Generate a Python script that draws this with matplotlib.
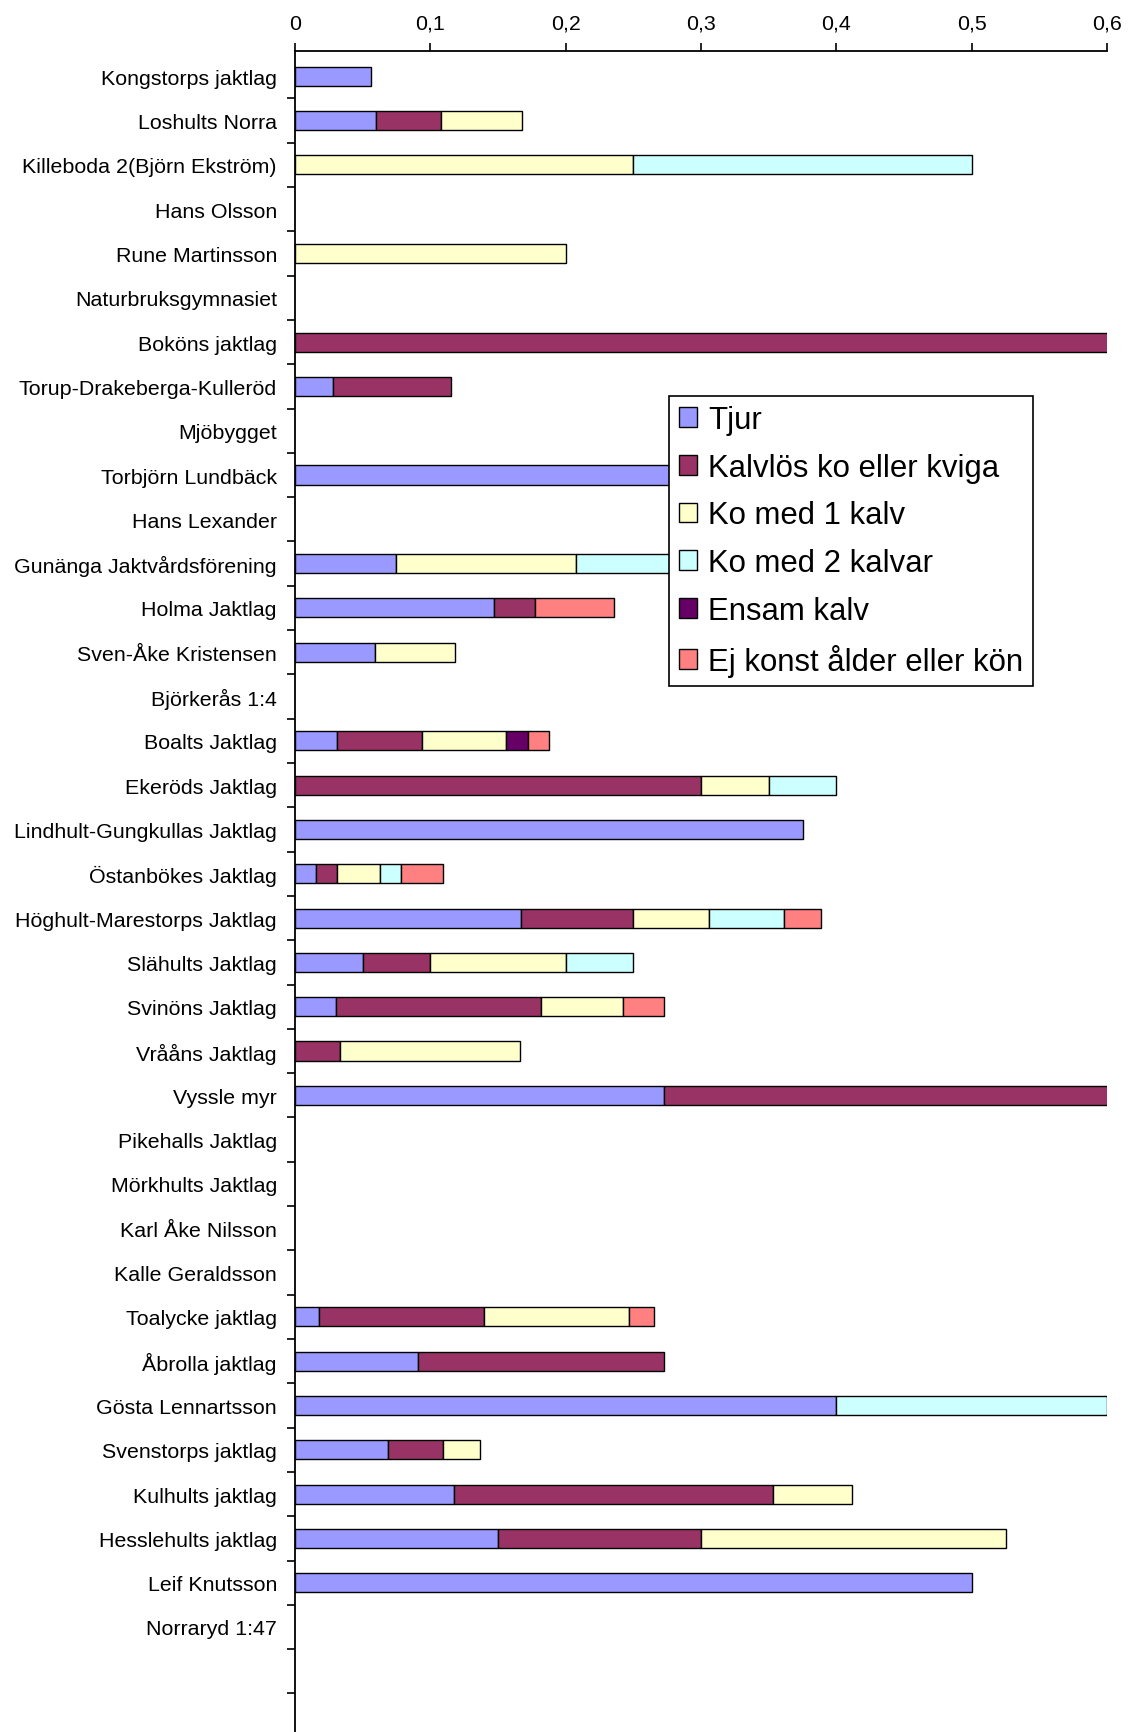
import matplotlib
matplotlib.use("Agg")
import matplotlib.pyplot as plt
import numpy as np

plt.rcParams['font.family'] = ['Liberation Sans', 'DejaVu Sans']

categories = [
    "Kongstorps jaktlag", "Loshults Norra", "Killeboda 2(Björn Ekström)", "Hans Olsson",
    "Rune Martinsson", "Naturbruksgymnasiet", "Boköns jaktlag", "Torup-Drakeberga-Kulleröd",
    "Mjöbygget", "Torbjörn Lundbäck", "Hans Lexander", "Gunänga Jaktvårdsförening",
    "Holma Jaktlag", "Sven-Åke Kristensen", "Björkerås 1:4", "Boalts Jaktlag",
    "Ekeröds Jaktlag", "Lindhult-Gungkullas Jaktlag", "Östanbökes Jaktlag",
    "Höghult-Marestorps Jaktlag", "Slähults Jaktlag", "Svinöns Jaktlag", "Vrååns Jaktlag",
    "Vyssle myr", "Pikehalls Jaktlag", "Mörkhults Jaktlag", "Karl Åke Nilsson",
    "Kalle Geraldsson", "Toalycke jaktlag", "Åbrolla jaktlag", "Gösta Lennartsson",
    "Svenstorps jaktlag", "Kulhults jaktlag", "Hesslehults jaktlag", "Leif Knutsson",
    "Norraryd 1:47",
]

tjur = [0.056, 0.06, 0, 0, 0, 0, 0, 0.028, 0, 0.333, 0, 0.075, 0.147, 0.059, 0, 0.03125,
        0, 0.375, 0.0156, 0.1667, 0.05, 0.0303, 0, 0.2727, 0, 0, 0, 0, 0.0175, 0.0909,
        0.4, 0.0685, 0.1176, 0.15, 0.5, 0]
kalvlos = [0, 0.048, 0, 0, 0, 0, 1.0, 0.087, 0, 0, 0, 0, 0.03, 0, 0, 0.0625,
           0.3, 0, 0.0156, 0.0833, 0.05, 0.1515, 0.0333, 0.7273, 0, 0, 0, 0, 0.1225, 0.1818,
           0, 0.041, 0.2353, 0.15, 0, 0]
ko1 = [0, 0.06, 0.25, 0, 0.2, 0, 0, 0, 0, 0, 0, 0.133, 0, 0.059, 0, 0.0625,
       0.05, 0, 0.0313, 0.0556, 0.1, 0.0606, 0.1333, 0, 0, 0, 0, 0, 0.107, 0,
       0, 0.0275, 0.0588, 0.225, 0, 0]
ko2 = [0, 0, 0.25, 0, 0, 0, 0, 0, 0, 0, 0, 0.125, 0, 0, 0, 0,
       0.05, 0, 0.0156, 0.0556, 0.05, 0, 0, 0, 0, 0, 0, 0, 0, 0,
       0.2, 0, 0, 0, 0, 0]
ensam = [0] * 15 + [0.0156] + [0] * 20
ej = [0, 0, 0, 0, 0, 0, 0, 0, 0, 0, 0, 0, 0.059, 0, 0, 0.0156,
      0, 0, 0.0313, 0.0278, 0, 0.0303, 0, 0, 0, 0, 0, 0, 0.018, 0,
      0, 0, 0, 0, 0, 0]

series_names = ["Tjur", "Kalvlös ko eller kviga", "Ko med 1 kalv", "Ko med 2 kalvar",
                "Ensam kalv", "Ej konst ålder eller kön"]
series_colors = ["#9999FF", "#993366", "#FFFFCC", "#CCFFFF", "#660066", "#FF8080"]
x_ticks = [0, 0.1, 0.2, 0.3, 0.4, 0.5, 0.6]
x_labels = ["0", "0,1", "0,2", "0,3", "0,4", "0,5", "0,6"]

fig = plt.figure(figsize=(11.28, 17.33), dpi=100)
ax = fig.add_axes([0.2615, 0.0, 0.7199, 0.970])

y = np.arange(len(categories))
left = np.zeros(len(categories))
for vals, name, col in zip([tjur, kalvlos, ko1, ko2, ensam, ej], series_names, series_colors):
    vals = np.array(vals, dtype=float)
    nz = vals > 0  # Excel draws nothing for empty segments
    ax.barh(y[nz], vals[nz], left=left[nz], height=0.43, color=col, edgecolor='black',
            linewidth=1.0, label=name)
    left += vals

ax.set_xlim(0, 0.6)
ax.set_ylim(37.37, -0.57)

ax.xaxis.tick_top()
ax.set_xticks(x_ticks)
ax.set_xticklabels(x_labels, fontsize=15.4)
ax.tick_params(axis='x', direction='out', length=6, width=1.2, pad=7)

ax.set_yticks(y)
ax.set_yticklabels(categories, fontsize=15.4)
ax.set_yticks(np.arange(37) + 0.5, minor=True)
ax.tick_params(axis='y', which='major', length=0, pad=13)
ax.tick_params(axis='y', which='minor', direction='out', length=6, width=1.2)

for s in ['right', 'bottom']:
    ax.spines[s].set_visible(False)
for s in ['top', 'left']:
    ax.spines[s].set_linewidth(1.3)

leg = ax.legend(loc='upper left', bbox_to_anchor=(0.5935, 0.7711),
                bbox_transform=fig.transFigure, fontsize=22.4, frameon=True,
                fancybox=False, framealpha=1, edgecolor='black', borderaxespad=0,
                handlelength=0.6, handleheight=0.6, handletextpad=0.35,
                labelspacing=0.57, borderpad=0.3)
leg.get_frame().set_linewidth(1.2)

fig.savefig("out.png", dpi=100)
